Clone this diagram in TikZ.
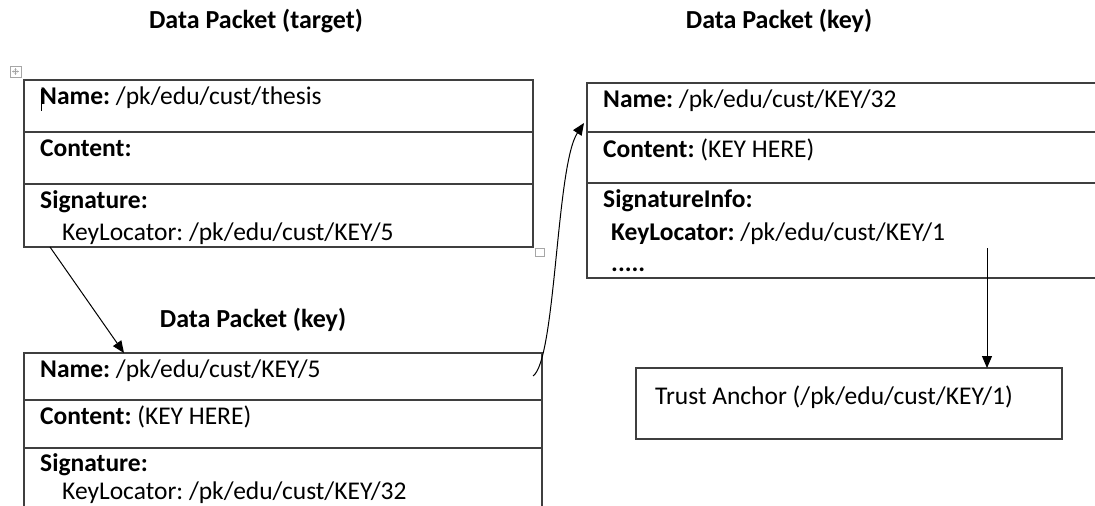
\documentclass[tikz,border=0pt]{standalone}
\usepackage{fontspec}
\setmainfont{Carlito}
\usetikzlibrary{arrows.meta,calc}
\definecolor{rule}{HTML}{3F3F3F}
\definecolor{handle}{HTML}{A6A6A6}
\frenchspacing
\begin{document}
\begin{tikzpicture}[x=1pt,y=-1pt,
  cell/.style={draw=rule, line width=1.3pt, inner sep=0pt, outer sep=0pt, anchor=north west},
  txt/.style={anchor=base west, inner sep=0pt, font=\fontsize{25.5}{30}\selectfont},
  heading/.style={anchor=base, inner sep=0pt, font=\fontsize{26}{30}\selectfont\bfseries},
  link/.style={draw=black, line width=1pt, -{Triangle[length=12pt,width=10pt]}},
  handlebox/.style={draw=handle, line width=0.8pt}
]
\useasboundingbox (0,0) rectangle (1095,506);
\clip (0,0) rectangle (1095,506);

% headings
\node[heading] (hTarget) at (256,28) {Data Packet (target)};
\node[heading] (hKeyA) at (779,28) {Data Packet (key)};
\node[heading] (hKeyB) at (253,327) {Data Packet (key)};

% target packet
\node[cell, minimum width=509pt, minimum height=52pt] (aName) at (24,80) {};
\node[cell, minimum width=509pt, minimum height=52pt] (aCont) at (24,132) {};
\node[cell, minimum width=509pt, minimum height=63pt] (aSig) at (24,184) {};
\node[txt] (aNameT) at (40,104) {\textbf{Name:} /pk/edu/cust/thesis};
\node[txt] (aContT) at (40,156) {\textbf{Content:}};
\node[txt] (aSigT) at (40,208) {\textbf{Signature:}};
\node[txt] (aKeyT) at (62,240) {KeyLocator: /pk/edu/cust/KEY/5};

% key packet /KEY/5
\node[cell, minimum width=518pt, minimum height=47pt] (bName) at (24,353) {};
\node[cell, minimum width=518pt, minimum height=48pt] (bCont) at (24,400) {};
\node[cell, minimum width=518pt, minimum height=80pt] (bSig) at (24,448) {};
\node[txt] (bNameT) at (40,377) {\textbf{Name:} /pk/edu/cust/KEY/5};
\node[txt] (bContT) at (40,424) {\textbf{Content:} (KEY HERE)};
\node[txt] (bSigT) at (40,471) {\textbf{Signature:}};
\node[txt] (bKeyT) at (62,499) {KeyLocator: /pk/edu/cust/KEY/32};

% key packet /KEY/32
\node[cell, minimum width=540pt, minimum height=49pt] (cName) at (587,83) {};
\node[cell, minimum width=540pt, minimum height=51pt] (cCont) at (587,132) {};
\node[cell, minimum width=540pt, minimum height=95pt] (cSig) at (587,183) {};
\node[txt] (cNameT) at (603,107) {\textbf{Name:} /pk/edu/cust/KEY/32};
\node[txt] (cContT) at (603,157) {\textbf{Content:} (KEY HERE)};
\node[txt] (cSigT) at (603,207) {\textbf{SignatureInfo:}};
\node[txt] (cKeyT) at (611,240) {\textbf{KeyLocator:} /pk/edu/cust/KEY/1};
\node[txt] (cMore) at (611,271) {\textbf{.....}};

% trust anchor
\node[cell, minimum width=426pt, minimum height=71pt] (trust) at (636,368) {};
\node[txt] (trustT) at (655,404) {Trust Anchor (/pk/edu/cust/KEY/1)};

% connectors
\coordinate (aOut) at ($(aSig.south west)+(26,0)$);
\coordinate (bIn) at ($(bName.north west)+(100,0)$);
\draw[link] (aOut) -- (bIn);

\coordinate (bOut) at ($(bName.north east)+(-9,23)$);
\coordinate (cIn) at ($(cName.north west)+(-3,40)$);
\draw[link] (bOut) .. controls +(23,-16) and +(-28,42) .. (cIn);

\coordinate (cOut) at (987,248);
\draw[link] (cOut) -- (cOut |- trust.north);

% editor handles and caret
\draw[handlebox] (10,66) rectangle (21,77);
\draw[handle, line width=0.6pt, {Stealth[length=2pt,width=2pt]}-{Stealth[length=2pt,width=2pt]}] (12,71.5) -- (19,71.5);
\draw[handle, line width=0.6pt, {Stealth[length=2pt,width=2pt]}-{Stealth[length=2pt,width=2pt]}] (15.5,68) -- (15.5,75);
\draw[handlebox] (535,248) rectangle (544,256);
\draw[black, line width=1pt] (41,89) -- (41,111);
\end{tikzpicture}
\end{document}
